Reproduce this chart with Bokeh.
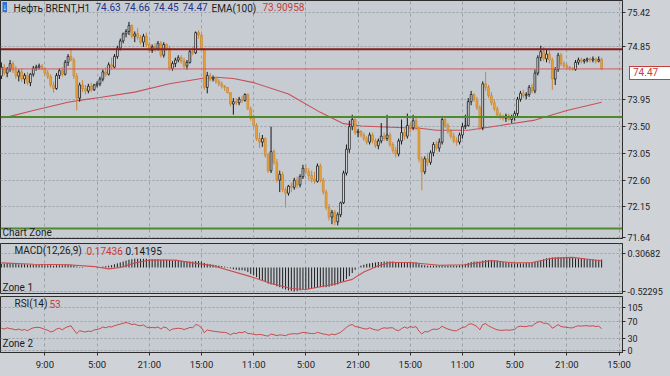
from bokeh.plotting import figure
from bokeh.models import FixedTicker, Span, Label, Range1d, ColumnDataSource, PrintfTickFormatter, Div
from bokeh.layouts import column
from bokeh.embed import file_html
from bokeh.resources import INLINE

# ---------------- data ----------------
opens = [
    74.35,74.50,74.40,74.47,74.56,74.44,74.35,74.42,74.30,74.36,
    74.24,74.38,74.48,74.50,74.52,74.47,74.40,74.34,74.20,74.14,
    74.36,74.44,74.38,74.58,74.68,74.62,74.35,73.98,74.20,74.14,
    74.10,74.18,74.12,74.20,74.22,74.30,74.42,74.38,74.54,74.50,
    74.68,74.82,74.94,75.06,75.10,75.20,75.02,75.06,75.00,74.92,
    75.02,74.88,74.78,74.84,74.80,74.90,74.70,74.88,74.82,74.48,
    74.56,74.62,74.66,74.60,74.52,74.58,74.76,74.74,75.08,75.04,
    74.80,74.16,74.36,74.30,74.32,74.26,74.22,74.18,74.16,74.07,
    73.88,73.92,73.90,73.96,73.94,74.04,73.80,73.64,73.52,73.30,
    73.24,73.30,73.02,72.76,73.08,72.90,72.60,72.70,72.44,72.38,
    72.50,72.48,72.60,72.52,72.66,72.80,72.74,72.68,72.62,72.58,
    72.84,72.60,72.40,72.14,71.98,72.06,71.90,72.02,72.22,72.72,
    73.12,73.50,73.62,73.40,73.42,73.36,73.30,73.24,73.36,73.26,
    73.18,73.26,73.34,73.30,73.36,73.20,73.10,73.04,73.26,73.40,
    73.34,73.52,73.48,73.60,73.48,72.96,72.74,72.96,72.90,73.06,
    73.20,73.14,73.24,73.62,73.52,73.42,73.34,73.26,73.24,73.36,
    73.50,73.52,73.92,74.04,73.96,73.82,73.48,74.22,74.16,74.02,
    73.90,73.80,73.70,73.66,73.64,73.68,73.62,73.66,73.72,73.96,
    74.06,74.02,74.04,74.16,74.10,74.40,74.66,74.76,74.64,74.72,
    74.62,74.30,74.46,74.70,74.56,74.52,74.50,74.48,74.46,74.58,
    74.62,74.60,74.62,74.64,74.62,74.64,74.60,74.63]
highs = [
    74.58,74.55,74.50,74.62,74.60,74.52,74.46,74.48,74.40,74.42,
    74.40,74.52,74.54,74.56,74.55,74.50,74.45,74.38,74.26,74.40,
    74.48,74.50,74.62,74.72,74.82,74.66,74.40,74.24,74.28,74.20,
    74.22,74.24,74.22,74.26,74.34,74.46,74.50,74.58,74.66,74.72,
    74.86,74.98,75.08,75.14,75.26,75.22,75.10,75.16,75.04,75.06,
    75.08,74.92,74.88,74.90,74.94,74.94,74.92,74.90,74.86,74.60,
    74.66,74.70,74.70,74.66,74.62,74.80,74.84,75.10,75.12,75.06,
    74.82,74.42,74.40,74.36,74.34,74.30,74.26,74.20,74.16,74.08,
    73.98,73.98,74.00,74.02,74.06,74.06,73.84,73.70,73.56,73.40,
    73.36,73.32,73.06,73.50,73.12,72.96,72.76,72.74,72.48,72.52,
    72.56,72.64,72.66,72.70,72.86,72.86,72.80,72.76,72.74,72.88,
    72.88,72.64,72.44,72.20,72.10,72.10,72.06,72.24,72.76,73.20,
    73.60,73.70,73.66,73.46,73.44,73.40,73.34,73.40,73.40,73.30,
    73.30,73.56,73.40,73.70,73.40,73.24,73.16,73.30,73.62,73.46,
    73.72,73.56,73.70,73.66,73.50,73.00,73.00,73.06,73.10,73.24,
    73.26,73.30,73.68,73.66,73.56,73.46,73.40,73.32,73.40,73.56,
    73.70,73.98,74.10,74.06,74.00,73.86,74.26,74.42,74.20,74.08,
    73.96,73.84,73.74,73.70,73.72,73.72,73.70,73.76,74.00,74.10,
    74.12,74.08,74.20,74.22,74.46,74.70,74.86,74.84,74.80,74.78,
    74.66,74.50,74.74,74.74,74.60,74.56,74.52,74.50,74.62,74.66,
    74.66,74.64,74.66,74.66,74.68,74.66,74.68,74.66]
lows = [
    74.30,74.36,74.33,74.42,74.40,74.30,74.26,74.25,74.22,74.20,
    74.18,74.34,74.44,74.46,74.45,74.36,74.30,74.16,74.07,74.12,
    74.30,74.34,74.36,74.52,74.60,74.30,73.77,73.92,74.08,74.04,
    74.06,74.08,74.10,74.16,74.18,74.26,74.34,74.36,74.46,74.48,
    74.64,74.78,74.90,75.00,75.04,74.98,74.92,74.96,74.88,74.84,
    74.84,74.74,74.74,74.76,74.78,74.66,74.66,74.78,74.44,74.44,
    74.50,74.58,74.56,74.48,74.46,74.56,74.70,74.72,74.98,74.78,
    74.12,74.06,74.26,74.26,74.22,74.18,74.14,74.10,74.06,73.84,
    73.70,73.86,73.86,73.90,73.92,73.78,73.60,73.48,73.26,73.14,
    73.16,72.98,72.72,72.72,72.86,72.56,72.40,72.40,72.14,72.34,
    72.40,72.44,72.46,72.48,72.62,72.70,72.60,72.56,72.54,72.56,
    72.56,72.36,72.10,71.92,71.86,71.84,71.84,71.98,72.20,72.68,
    73.06,73.44,73.36,73.32,73.32,73.26,73.20,73.20,73.22,73.14,
    73.12,73.22,73.26,73.26,73.16,73.06,72.98,73.00,73.20,73.28,
    73.30,73.40,73.44,73.44,72.90,72.43,72.70,72.84,72.86,73.00,
    73.10,73.08,73.20,73.48,73.38,73.30,73.22,73.18,73.20,73.30,
    73.46,73.50,73.86,73.92,73.78,73.44,73.44,74.10,73.98,73.86,
    73.76,73.66,73.62,73.60,73.58,73.60,73.56,73.60,73.68,73.92,
    73.98,73.96,74.00,74.06,74.06,74.36,74.60,74.60,74.58,74.56,
    74.12,74.20,74.42,74.52,74.48,74.46,74.44,74.44,74.44,74.54,
    74.56,74.56,74.58,74.58,74.58,74.56,74.58,74.45]
closes = [
    74.50,74.40,74.47,74.56,74.44,74.35,74.42,74.30,74.36,74.24,
    74.38,74.48,74.50,74.52,74.47,74.40,74.34,74.20,74.14,74.36,
    74.44,74.38,74.58,74.68,74.62,74.35,73.98,74.20,74.14,74.10,
    74.18,74.12,74.20,74.22,74.30,74.42,74.38,74.54,74.50,74.68,
    74.82,74.94,75.06,75.10,75.20,75.02,75.06,75.00,74.92,75.02,
    74.88,74.78,74.84,74.80,74.90,74.70,74.88,74.82,74.48,74.56,
    74.62,74.66,74.60,74.52,74.58,74.76,74.74,75.08,75.04,74.80,
    74.16,74.36,74.30,74.32,74.26,74.22,74.18,74.16,74.07,73.88,
    73.92,73.90,73.96,73.94,74.04,73.80,73.64,73.52,73.30,73.24,
    73.30,73.02,72.76,73.08,72.90,72.60,72.70,72.44,72.38,72.50,
    72.48,72.60,72.52,72.66,72.80,72.74,72.68,72.62,72.58,72.84,
    72.60,72.40,72.14,71.98,72.06,71.90,72.02,72.22,72.72,73.12,
    73.50,73.62,73.40,73.42,73.36,73.30,73.24,73.36,73.26,73.18,
    73.26,73.34,73.30,73.36,73.20,73.10,73.04,73.26,73.40,73.34,
    73.52,73.48,73.60,73.48,72.96,72.74,72.96,72.90,73.06,73.20,
    73.14,73.24,73.62,73.52,73.42,73.34,73.26,73.24,73.36,73.50,
    73.52,73.92,74.04,73.96,73.82,73.48,74.22,74.16,74.02,73.90,
    73.80,73.70,73.66,73.64,73.68,73.62,73.66,73.72,73.96,74.06,
    74.02,74.04,74.16,74.10,74.40,74.66,74.76,74.64,74.72,74.62,
    74.30,74.46,74.70,74.56,74.52,74.50,74.48,74.46,74.58,74.62,
    74.60,74.62,74.64,74.62,74.64,74.60,74.63,74.47]

ema_bars = [0, 2, 11, 23, 28, 34, 46, 58, 69, 74, 80, 87, 99, 110, 118, 124, 145, 150, 161, 172, 184, 195, 207]
ema_vals = [73.65, 73.66, 73.77, 73.91, 73.95, 73.99, 74.08, 74.22, 74.31, 74.33, 74.31, 74.24, 74.05, 73.74,
            73.55, 73.51, 73.47, 73.44, 73.44, 73.52, 73.61, 73.77, 73.91]

macd_hist = [
    0.08,0.08,0.09,0.09,0.08,0.08,0.07,0.07,0.07,0.06,0.06,
    0.06,0.06,0.06,0.06,0.05,0.05,0.05,0.04,0.05,0.05,0.05,0.06,
    0.06,0.06,0.04,0.02,0.01,0.01,0.00,0.00,0.00,0.00,0.01,
    0.01,0.02,0.03,0.04,0.05,0.07,0.09,0.11,
    0.13,0.15,0.17,0.18,0.19,0.19,0.19,0.19,
    0.19,0.18,0.18,0.18,0.18,0.17,0.17,0.17,0.16,0.15,0.15,
    0.15,0.14,0.14,0.13,0.13,0.13,0.14,0.14,0.13,
    0.10,0.08,0.07,0.06,0.05,0.04,0.03,
    0.02,0.01,-0.02,-0.04,-0.05,-0.06,-0.06,-0.07,-0.10,
    -0.14,-0.17,-0.21,-0.25,-0.28,-0.31,-0.35,-0.37,-0.38,-0.41,-0.43,-0.46,-0.48,-0.50,
    -0.51,-0.52,-0.51,-0.50,-0.49,-0.48,-0.47,-0.46,-0.45,-0.44,-0.43,
    -0.43,-0.43,-0.42,-0.40,-0.39,-0.37,-0.34,-0.30,-0.25,-0.19,-0.12,
    -0.05,0.00,0.04,0.06,0.08,0.09,0.10,0.11,0.12,0.12,
    0.13,0.13,0.13,0.13,0.12,0.12,0.12,0.12,0.12,0.12,0.11,0.11,0.09,0.06,
    0.05,0.04,0.04,0.04,0.04,0.04,0.05,0.04,0.04,0.04,0.04,0.04,0.05,0.06,0.08,
    0.10,0.12,0.13,0.13,0.13,0.15,0.16,0.16,0.16,0.15,0.15,0.14,0.12,0.11,0.10,
    0.09,0.09,0.09,0.09,0.09,0.10,0.10,0.11,0.12,0.13,0.15,0.18,0.20,0.21,
    0.22,0.22,0.23,0.22,0.22,0.22,0.21,0.21,0.20,0.20,0.20,0.19,0.18,0.18,0.18,0.17,0.17,0.174]

signal_bars = [0, 11, 23, 32, 37, 41, 46, 51, 60, 66, 73, 86, 93, 100, 105, 110, 115, 121, 125, 130, 134,
               141, 151, 160, 169, 177, 183, 190, 197, 201, 207]
signal_vals = [0.10, 0.07, 0.06, 0.02, -0.03, 0.00, 0.10, 0.16, 0.16, 0.10, 0.04, -0.20, -0.35, -0.46, -0.48,
               -0.42, -0.36, -0.26, -0.10, 0.04, 0.11, 0.11, 0.05, 0.06, 0.15, 0.10, 0.11, 0.20, 0.22, 0.19, 0.142]

rsi_vals = [
    54,52,55,53,52,50,52,49,51,48,52,55,56,56,54,
    51,49,45,47,52,54,50,55,58,60,50,41,
    48,46,45,47,46,50,51,
    53,57,55,58,57,60,62,64,66,
    68,66,63,64,61,60,62,57,
    55,56,55,57,52,57,55,48,52,53,
    54,53,51,53,56,55,63,61,
    55,43,50,48,47,46,45,44,
    44,42,38,42,41,44,43,46,41,
    41,39,38,39,38,36,35,40,38,36,38,37,36,39,
    40,41,40,42,44,43,42,41,41,44,42,
    40,39,37,40,38,41,44,50,56,61,63,
    58,57,55,53,52,55,52,50,49,53,
    55,54,55,55,50,48,53,57,54,58,56,58,47,40,
    46,45,49,52,51,53,59,55,52,50,48,48,52,56,57,
    63,65,62,58,50,63,65,60,56,53,50,49,49,50,49,
    50,51,57,59,58,58,60,59,65,69,70,66,66,63,
    54,58,63,58,57,56,55,55,58,60,59,60,60,59,60,58,59,53]

price_ticks = [75.42, 74.85, 73.95, 73.50, 73.05, 72.60, 72.15, 71.64]
macd_ticks = [0.30682, -0.52295]
rsi_ticks = [105, 70, 30, 0]
time_tick_bars = [15, 33, 51, 69, 87, 105, 123, 141, 159, 177, 195, 213]
time_labels = ["9:00", "5:00", "21:00", "15:00", "11:00", "5:00", "21:00", "15:00", "11:00", "5:00", "21:00", "15:00"]

resistance_level = 74.80
current_price = 74.47
support_level = 73.66
support_level_2 = 71.79

# ---------------- styling ----------------
FONT = "Roboto"
PLOT_BG = "#c7ccd2"
BORDER_BG = "#cfd3d8"
GRID = "#9ba1a9"
OUTLINE = "#2d2d2d"
TXT = "#1c1c1c"
RED = "#c43c3c"
BLUE = "#24328c"
W = 670
RIGHT = 48

x_range = Range1d(-0.3, 214.2)
main_range = Range1d(71.62, 75.62)


def base_fig(h, yr, top, bottom, xaxis):
    p = figure(width=W, height=h, x_range=x_range, y_range=yr,
               output_backend="svg", toolbar_location=None,
               y_axis_location="right", x_axis_location=("below" if xaxis else None),
               min_border_left=0, min_border_right=RIGHT,
               min_border_top=top, min_border_bottom=bottom)
    p.background_fill_color = PLOT_BG
    p.border_fill_color = BORDER_BG
    p.outline_line_color = OUTLINE
    p.outline_line_width = 1
    p.xgrid.ticker = FixedTicker(ticks=time_tick_bars)
    p.xgrid.grid_line_color = GRID
    p.xgrid.grid_line_dash = "3 3"
    p.ygrid.grid_line_color = GRID
    p.ygrid.grid_line_dash = "2 2"
    ax = p.yaxis[0]
    ax.axis_line_color = OUTLINE
    ax.major_tick_out = 3
    ax.major_tick_in = 0
    ax.major_tick_line_color = OUTLINE
    ax.minor_tick_line_color = None
    ax.major_label_text_font = FONT
    ax.major_label_text_font_size = "9px"
    ax.major_label_text_color = TXT
    ax.major_label_standoff = 2
    return p


def add_label(p, x, y, text, color=TXT, xu="screen", yu="screen", baseline="middle", size="10px", **kw):
    p.add_layout(Label(x=x, y=y, x_units=xu, y_units=yu, text=text, text_color=color,
                       text_font=FONT, text_font_size=size, text_baseline=baseline, **kw))


# ---------------- main price panel ----------------
MAIN_FRAME_H = 238
p1 = base_fig(243, main_range, 0, 5, False)
t1 = FixedTicker(ticks=price_ticks)
p1.yaxis[0].ticker = t1
p1.ygrid.ticker = t1
p1.yaxis[0].formatter = PrintfTickFormatter(format="%.2f")

N = len(closes)
idx = list(range(N))
bull = {k: [] for k in ("x", "o", "h", "l", "c", "top", "bot")}
bear = {k: [] for k in ("x", "o", "h", "l", "c", "top", "bot")}
for i in idx:
    d = bull if closes[i] >= opens[i] else bear
    d["x"].append(i); d["o"].append(opens[i]); d["h"].append(highs[i])
    d["l"].append(lows[i]); d["c"].append(closes[i])
    d["top"].append(max(opens[i], closes[i])); d["bot"].append(min(opens[i], closes[i]))
sb = ColumnDataSource(bull)
sr = ColumnDataSource(bear)

for lvl, col, w in [(resistance_level, "#8a1c1c", 2), (current_price, "#d45a5a", 1),
                    (support_level, "#4f8a2c", 2), (support_level_2, "#4f8a2c", 2)]:
    p1.add_layout(Span(location=lvl, dimension="width", line_color=col, line_width=w))

p1.line(ema_bars, ema_vals, line_color="#c8505a", line_width=1.1)

p1.segment(x0="x", y0="l", x1="x", y1="h", source=sr, line_color="#c8863a", line_width=1)
p1.vbar(x="x", width=0.62, top="top", bottom="bot", source=sr, fill_color="#f0a535",
        line_color="#c98a38", line_width=0.8)
p1.segment(x0="x", y0="l", x1="x", y1="h", source=sb, line_color="#151515", line_width=1)
p1.vbar(x="x", width=0.62, top="top", bottom="bot", source=sb, fill_color="#f4f5f6",
        line_color="#151515", line_width=0.8)

# header
add_label(p1, 2, MAIN_FRAME_H - 1.5, "\u2193", color="white", baseline="top", size="9px",
          background_fill_color="#2f72d6")
add_label(p1, 13, MAIN_FRAME_H - 2, "Нефть BRENT,H1", baseline="top")
for xx, tx in [(95, "74.63"), (124, "74.66"), (153, "74.45"), (182, "74.47")]:
    add_label(p1, xx, MAIN_FRAME_H - 2, tx, color=BLUE, baseline="top")
add_label(p1, 211, MAIN_FRAME_H - 2, "EMA(100)", baseline="top")
add_label(p1, 262, MAIN_FRAME_H - 2, "73.90958", color=RED, baseline="top")
add_label(p1, 2, 6, "Chart Zone")

# ---------------- MACD panel ----------------
p2 = base_fig(53, Range1d(-0.568, 0.524), 0, 3, False)
t2 = FixedTicker(ticks=macd_ticks)
p2.yaxis[0].ticker = t2
p2.ygrid.ticker = t2
p2.yaxis[0].formatter = PrintfTickFormatter(format="%.5f")
p2.segment(x0=idx, y0=[0] * N, x1=idx, y1=macd_hist, line_color="#1c1c1c", line_width=1)
p2.line(signal_bars, signal_vals, line_color="#cc4b4b", line_width=1.1)
add_label(p2, 14, 43, "MACD(12,26,9)")
add_label(p2, 86, 43, "0.17436", color=RED)
add_label(p2, 125, 43, "0.14195")
add_label(p2, 2, 6, "Zone 1")

# ---------------- RSI panel ----------------
p3 = base_fig(80, Range1d(-4.9, 131), 0, 24, True)
t3 = FixedTicker(ticks=rsi_ticks)
p3.yaxis[0].ticker = t3
p3.ygrid.ticker = t3
p3.yaxis[0].formatter = PrintfTickFormatter(format="%d")
xa = p3.xaxis[0]
xa.ticker = FixedTicker(ticks=time_tick_bars)
xa.major_label_overrides = {b: t for b, t in zip(time_tick_bars, time_labels)}
xa.axis_line_color = OUTLINE
xa.major_tick_out = 3
xa.major_tick_in = 0
xa.major_tick_line_color = OUTLINE
xa.minor_tick_line_color = None
xa.major_label_text_font = FONT
xa.major_label_text_font_size = "9.5px"
xa.major_label_text_color = TXT
xa.major_label_standoff = 3
p3.line(idx, rsi_vals, line_color="#c84a4a", line_width=1)
add_label(p3, 14, 114, "RSI(14)", xu="screen", yu="data")
add_label(p3, 49, 114, "53", color=RED, xu="screen", yu="data")
add_label(p3, 2, 17, "Zone 2", xu="screen", yu="data")

# current-price tag on the price scale (sits over the axis area, outside the plot frame)
tag_top = (main_range.end - current_price) / (main_range.end - main_range.start) * MAIN_FRAME_H - 7
tag = Div(text="74.47", width=45, height=14,
          styles={"position": "absolute", "left": "624px", "top": "%dpx" % round(tag_top),
                  "background-color": "white", "border": "1px solid " + RED, "color": RED,
                  "font-family": "Roboto", "font-size": "10px", "line-height": "12px",
                  "padding-left": "3px", "box-sizing": "border-box", "z-index": "10"})

layout = column(p1, p2, p3, tag, spacing=0)
layout.styles = {"background-color": BORDER_BG, "position": "relative"}
open("out.html", "w").write(file_html(layout, INLINE))
